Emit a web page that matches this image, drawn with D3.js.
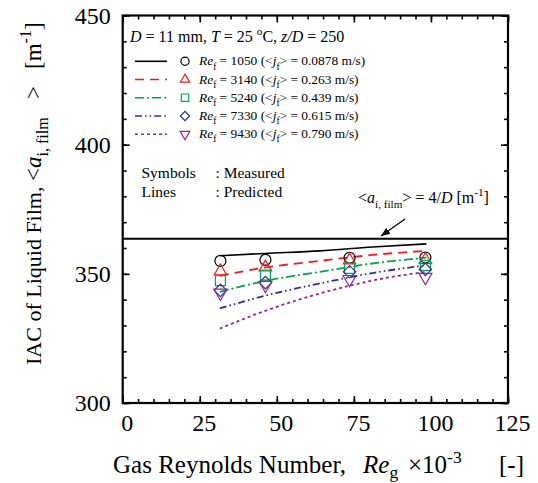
<!DOCTYPE html>
<html><head><meta charset="utf-8">
<script src="https://cdn.jsdelivr.net/npm/d3@7"></script>
<style>body{margin:0;background:#fff}svg{display:block}text{font-family:"Liberation Serif","Times New Roman",serif;fill:#000}</style>
</head><body><svg id="c" width="538" height="483"></svg>
<script>
// ---- data ----
const seriesNames = ["1050","3140","5240","7330","9430"];
const jfValues = ["0.0878","0.263","0.439","0.615","0.790"];
const colors = ["#000000","#ed1c24","#00a651","#2e3192","#92278f"];
const symbolsKind = ["circle","triangle","square","diamond","invtriangle"];
const xMeasured = [31.7, 46.3, 73.6, 98.2];
const yMeasured = [
  [355.0, 355.4, 356.2, 356.3],
  [351.0, 352.5, 355.2, 355.4],
  [347.4, 349.5, 352.1, 353.3],
  [343.6, 346.6, 350.8, 351.7],
  [342.6, 345.6, 347.9, 348.7]
];
const xPredicted = [31.5, 46, 64, 81, 98.5];
const yPredicted = [
  [357.0, 357.9, 358.9, 360.4, 361.6],
  [349.2, 352.4, 355.0, 357.3, 358.9],
  [343.0, 347.2, 350.8, 354.0, 356.3],
  [336.6, 341.5, 346.3, 350.3, 353.3],
  [328.8, 335.6, 342.4, 347.4, 350.8]
];
const dashes = [null, "9,6", "9,3,2,3", "7,3,1.6,3,1.6,3", "3,3"];
const xTicks = [0,25,50,75,100,125];
const yTicks = [300,350,400,450];
const refValue = 363.6;

// ---- layout ----
const svg = d3.select("#c");
const L = 122.7, R = 508, T = 15.5, B = 403;
const x = d3.scaleLinear([0,125],[L,R]);
const y = d3.scaleLinear([300,450],[B,T]);

function rich(sel, parts, size){
  let shift = 0;
  parts.forEach(p=>{
    const ts = sel.append("tspan").text(p.t);
    let target = 0, fs = size;
    if(p.sub){ target = size*(p.sh||0.32); fs = size*0.7; }
    if(p.sup){ target = -size*0.42; fs = size*0.7; }
    ts.attr("font-size", fs);
    if(p.i) ts.attr("font-style","italic");
    if(target!==shift){ ts.attr("dy", target-shift); shift = target; }
  });
  return sel;
}

// axes (ticks inward, all sides)
const minorX = d3.range(0,126,5), minorY = d3.range(300,451,10);
function ax(gen, tr, ticks, size, labels, fs, pad){
  const g = svg.append("g").attr("transform",tr)
    .call(gen.tickValues(ticks).tickSize(-size).tickPadding(pad||0).tickFormat(labels?d3.format("d"):""));
  g.select(".domain").remove();
  g.selectAll("line").attr("stroke","#000").attr("stroke-width",1.6);
  g.selectAll("text").attr("font-size",fs||0).attr("font-family","Liberation Serif");
  return g;
}
ax(d3.axisBottom(x), `translate(0,${B})`, minorX, 4);
ax(d3.axisBottom(x), `translate(0,${B})`, xTicks, 7, true, 24, 11).selectAll("text").attr("dx",4);
ax(d3.axisTop(x), `translate(0,${T})`, minorX, 4);
ax(d3.axisTop(x), `translate(0,${T})`, xTicks, 7);
ax(d3.axisLeft(y), `translate(${L},0)`, minorY, 4);
ax(d3.axisLeft(y), `translate(${L},0)`, yTicks, 7, true, 24, 12);
ax(d3.axisRight(y), `translate(${R},0)`, minorY, 4);
ax(d3.axisRight(y), `translate(${R},0)`, yTicks, 7);

svg.append("rect").attr("x",L).attr("y",T).attr("width",R-L).attr("height",B-T)
  .attr("fill","none").attr("stroke","#000").attr("stroke-width",2.2);

// reference line
svg.append("line").attr("x1",L).attr("x2",R).attr("y1",y(refValue)).attr("y2",y(refValue))
  .attr("stroke","#000").attr("stroke-width",2);

// predicted lines
const line = d3.line().x(d=>x(d[0])).y(d=>y(d[1])).curve(d3.curveMonotoneX);
yPredicted.forEach((vals,i)=>{
  svg.append("path").attr("d", line(xPredicted.map((xv,j)=>[xv,vals[j]])))
    .attr("fill","none").attr("stroke",colors[i]).attr("stroke-width",i===0?1.6:1.8)
    .attr("stroke-dasharray",dashes[i]);
});

// markers
function marker(g, kind, cx, cy, scale, col){
  let sym, size, rot = 0;
  if(kind==="circle"){sym=d3.symbolCircle; size=95;}
  if(kind==="triangle"){sym=d3.symbolTriangle; size=68;}
  if(kind==="square"){sym=d3.symbolSquare; size=100;}
  if(kind==="diamond"){sym=d3.symbolSquare; size=78; rot=45;}
  if(kind==="invtriangle"){sym=d3.symbolTriangle; size=74; rot=180;}
  g.append("path").attr("d", d3.symbol(sym, size*scale)())
    .attr("transform",`translate(${cx},${cy}) rotate(${rot})`)
    .attr("fill","none").attr("stroke",col).attr("stroke-width",1.2);
}
yMeasured.forEach((vals,i)=>{
  vals.forEach((v,j)=> marker(svg, symbolsKind[i], x(xMeasured[j]), y(v), 1, colors[i]));
});

// title
rich(svg.append("text").attr("x",130).attr("y",42),
  [{t:"D",i:1},{t:" = 11 mm, "},{t:"T",i:1},{t:" = 25 "},{t:"o",sup:1},{t:"C,  "},{t:"z/D",i:1},{t:" = 250"}],16);

// legend
const rowY = [65.3, 83.5, 101.7, 120, 138.2];
seriesNames.forEach((n,i)=>{
  const yy = rowY[i];
  svg.append("line").attr("x1",135).attr("x2",167).attr("y1",yy-4).attr("y2",yy-4)
    .attr("stroke",colors[i]).attr("stroke-width",1.6).attr("stroke-dasharray",dashes[i]);
  marker(svg, symbolsKind[i], 185, yy-4, 0.55, colors[i]);
  rich(svg.append("text").attr("x",199).attr("y",yy),
    [{t:"Re",i:1},{t:"f",sub:1},{t:" = "+n+" (<"},{t:"j",i:1},{t:"f",sub:1},{t:"> = "+jfValues[i]+" m/s)"}],13.4);
});

svg.append("text").attr("x",141.5).attr("y",178).attr("font-size",15.5).text("Symbols");
svg.append("text").attr("x",215.5).attr("y",178).attr("font-size",15.5).text(": Measured");
svg.append("text").attr("x",141.5).attr("y",196.5).attr("font-size",15.5).text("Lines");
svg.append("text").attr("x",215.5).attr("y",196.5).attr("font-size",15.5).text(": Predicted");

// annotation
rich(svg.append("text").attr("x",358).attr("y",203),
  [{t:"<"},{t:"a",i:1},{t:"i, film",sub:1},{t:"> = 4/"},{t:"D",i:1},{t:"  [m"},{t:"-1",sup:1},{t:"]"}],16);
svg.append("defs").append("marker").attr("id","ah").attr("viewBox","0 0 10 10")
  .attr("refX",10).attr("refY",5).attr("markerWidth",9).attr("markerHeight",9).attr("orient","auto")
  .attr("markerUnits","userSpaceOnUse")
  .append("path").attr("d","M0,1 L10,5 L0,9 z").attr("fill","#000");
svg.append("line").attr("x1",405).attr("y1",219).attr("x2",381).attr("y2",236)
  .attr("stroke","#000").attr("stroke-width",1.2).attr("marker-end","url(#ah)");

// axis titles
const xt = svg.append("g");
xt.append("text").attr("x",113).attr("y",473).attr("font-size",25).text("Gas Reynolds Number,");
rich(xt.append("text").attr("x",363).attr("y",473), [{t:"Re",i:1},{t:"g",sub:1,sh:0.2}],25);
rich(xt.append("text").attr("x",408).attr("y",473), [{t:"×10"},{t:"-3",sup:1}],25);
xt.append("text").attr("x",499).attr("y",473).attr("font-size",25).text("[-]");

const yt = svg.append("g").attr("transform","translate(41,365) rotate(-90)");
yt.append("text").attr("x",0).attr("y",0).attr("font-size",22).text("IAC of Liquid Film,");
rich(yt.append("text").attr("x",184).attr("y",0), [{t:"<"},{t:"a",i:1},{t:"i, film",sub:1}],23);
yt.append("text").attr("x",266).attr("y",0).attr("font-size",23).text(">");
rich(yt.append("text").attr("x",296).attr("y",0), [{t:"[m"},{t:"-1",sup:1},{t:"]"}],23);
</script></body></html>
